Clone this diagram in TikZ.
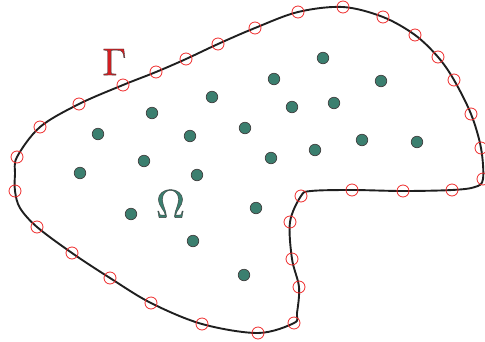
\documentclass[tikz,border=0pt]{standalone}
\usepackage{graphicx}
\begin{document}
\begin{tikzpicture}[x=1pt,y=-1pt,
  bnd/.style={draw=black!88, line width=1.9pt, line join=round},
  ring/.style={circle, draw=red!90!black, line width=0.8pt, minimum size=12pt, inner sep=0pt},
  pt/.style={circle, draw=black!75, line width=0.7pt, minimum size=11.5pt, inner sep=0pt},
  lbl/.style={inner sep=0pt}]
\definecolor{dotc}{HTML}{3B7F6F}
\definecolor{ringc}{HTML}{EE2A2A}
\definecolor{gamc}{HTML}{D41E22}
\newcommand{\outlined}[1]{\special{pdf:literal q 2 Tr 0.1 w 0.25 0.25 0.25 RG}#1\special{pdf:literal Q}}
\useasboundingbox (0,0) rectangle (485,341);
% boundary curve points
\foreach \n/\x/\y in {1/17/157,2/40/127,3/79/104,4/123/85,5/156/72,6/186/59,7/218/44,8/255/28,9/298/12,10/343/7,11/383/17,12/415/35,13/438/57,14/454/80,15/471/114,16/481/148,17/483/179,18/452/190,19/403/191,20/352/190,21/301/196,22/290/222,23/292/259,24/299/287,25/294/323,26/258/333,27/202/324,28/151/303,29/110/278,30/72/253,31/37/227,32/15/191}
  \coordinate (c\n) at (\x,\y);
\coordinate (e1) at (475,187);
\coordinate (e2) at (311,191);
\coordinate (e3) at (297,313);
\coordinate (e4) at (15,174);
\coordinate (e6) at (20,208);
\draw[bnd] plot[smooth cycle, tension=0.55] coordinates {(c2) (c3) (c4) (c5) (c6) (c7) (c8) (c9) (c10) (c11) (c12) (c13) (c14) (c15) (c16) (c17) (e1) (c18) (c19) (c20) (e2) (c21) (c22) (c23) (c24) (e3) (c25) (c26) (c27) (c28) (c29) (c30) (c31) (e6) (c32) (e4) (c1)};
% red rings on the boundary
\foreach \n in {1,...,32}
  \node[ring, draw=ringc] (r\n) at (c\n) {};
% interior points
\foreach \n/\x/\y in {1/323/58,2/274/79,3/381/81,4/212/97,5/152/113,6/292/107,7/334/103,8/98/134,9/190/136,10/245/128,11/362/140,12/417/142,13/144/161,14/271/158,15/315/150,16/80/173,17/197/175,18/131/214,19/256/208,20/193/241,21/244/275}
  \node[pt, fill=dotc] (p\n) at (\x,\y) {};
% labels
\node[lbl, text=gamc] (gamma) at (114.5,62) {\outlined{\scalebox{3.85}{$\Gamma$}}};
\node[lbl, text=dotc] (omega) at (170.5,204) {\outlined{\scalebox{4.0}{$\Omega$}}};
\end{tikzpicture}
\end{document}
